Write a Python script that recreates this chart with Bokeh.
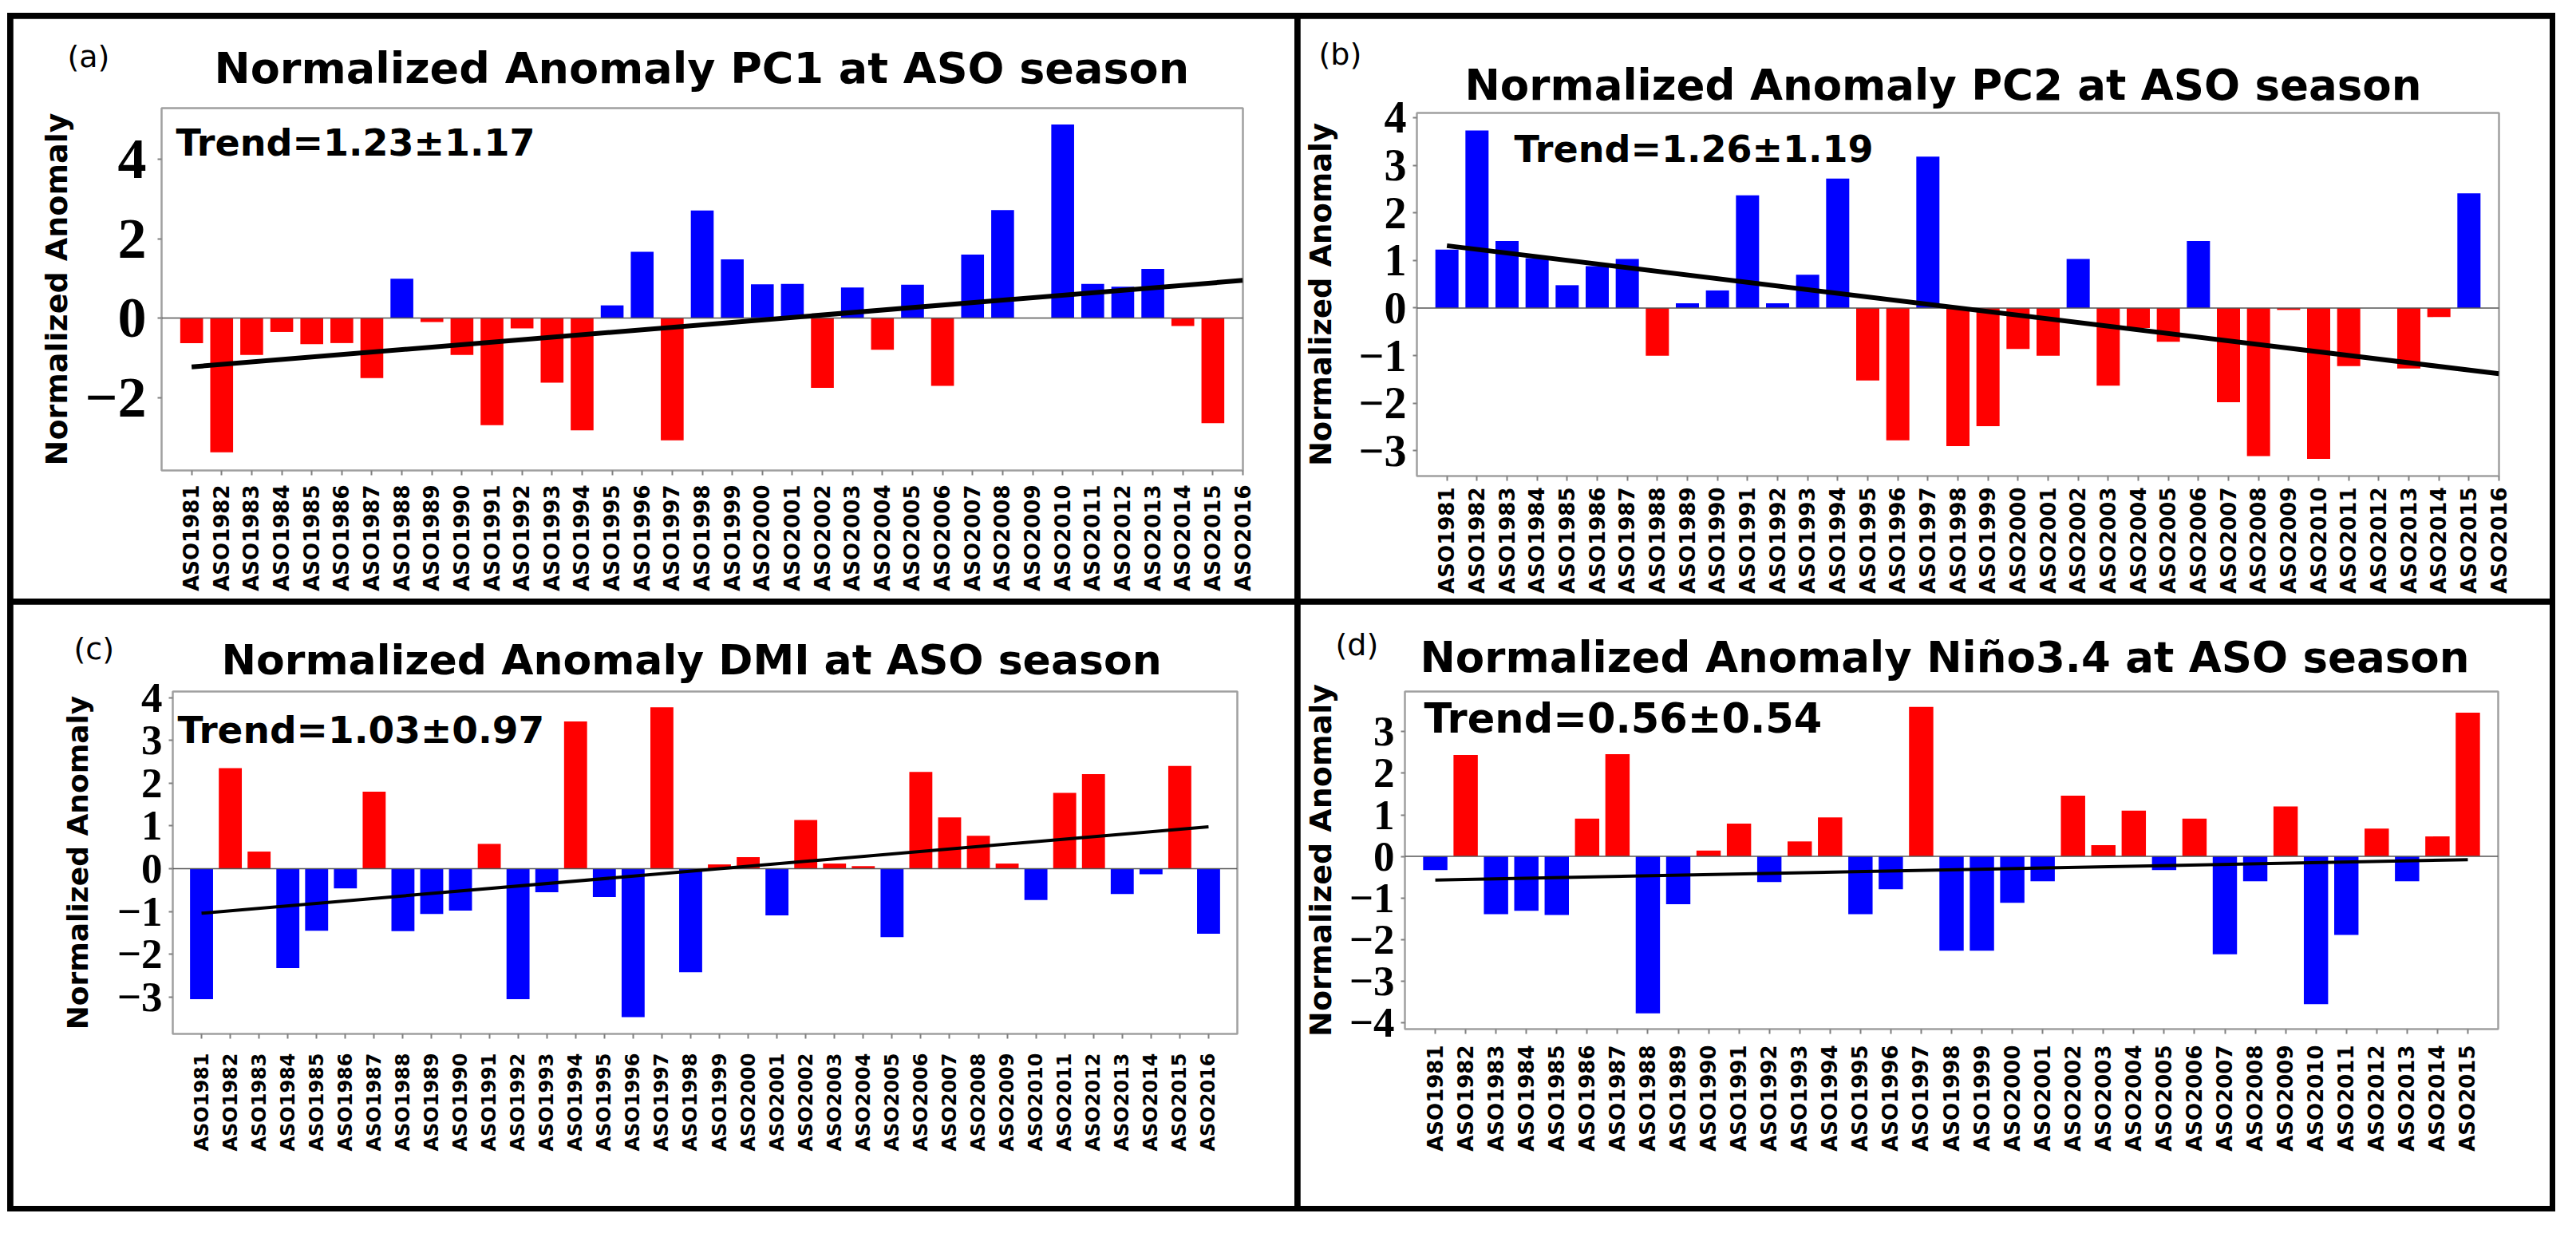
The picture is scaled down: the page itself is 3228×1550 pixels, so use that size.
import math
from bokeh.plotting import figure
from bokeh.models import Range1d, FixedTicker, Label, GridBox, ColumnDataSource, Title
from bokeh.layouts import column
from bokeh.embed import file_html
from bokeh.resources import INLINE

# ---------------- data ----------------
years = list(range(1981, 2017))
tick_labels = [f"ASO{y}" for y in years]

pc1 = [-0.63, -3.38, -0.93, -0.35, -0.66, -0.63, -1.51, 0.99, -0.10, -0.93,
       -2.70, -0.26, -1.63, -2.83, 0.32, 1.67, -3.08, 2.71, 1.48, 0.85,
       0.86, -1.76, 0.77, -0.80, 0.84, -1.71, 1.60, 2.72, 0.00, 4.88,
       0.86, 0.79, 1.24, -0.20, -2.65]
pc1_trend = [-1.23, 0.95]

pc2 = [1.23, 3.73, 1.41, 1.05, 0.48, 0.88, 1.03, -1.00, 0.10, 0.37,
       2.37, 0.10, 0.70, 2.72, -1.52, -2.78, 3.18, -2.90, -2.48, -0.86,
       -1.00, 1.03, -1.63, -0.42, -0.71, 1.41, -1.98, -3.11, -0.04, -3.17,
       -1.22, 0.00, -1.27, -0.19, 2.41]
pc2_trend = [1.31, -1.38]

dmi = [-3.05, 2.35, 0.40, -2.32, -1.45, -0.46, 1.80, -1.46, -1.06, -0.98,
       0.58, -3.05, -0.55, 3.44, -0.66, -3.47, 3.77, -2.42, 0.10, 0.27,
       -1.09, 1.14, 0.12, 0.06, -1.60, 2.26, 1.20, 0.77, 0.12, -0.73,
       1.77, 2.21, -0.59, -0.13, 2.40, -1.52]
dmi_trend = [-1.04, 0.98]

nino = [-0.33, 2.44, -1.39, -1.31, -1.41, 0.91, 2.46, -3.78, -1.15, 0.14,
        0.79, -0.62, 0.36, 0.94, -1.39, -0.79, 3.60, -2.27, -2.27, -1.12,
        -0.60, 1.46, 0.27, 1.10, -0.33, 0.91, -2.36, -0.60, 1.20, -3.56,
        -1.89, 0.67, -0.60, 0.48, 3.46]
nino_trend = [-0.57, -0.08]

# ---------------- style ----------------
SANS = "DejaVu Sans"
SERIF = "Liberation Serif"
BLUE = "#0000ff"
RED = "#ff0000"


def make_panel(cfg):
    w, h = cfg["size"]
    l, t, r, b = cfg["borders"]
    vals = cfg["values"]
    n_ticks = cfg["n_ticks"]
    x0, x1 = -1, cfg["x_end"]
    y0, y1 = cfg["yrange"]
    W = w - l - r
    H = h - t - b

    def dx(px):
        return x0 + (px - l) / W * (x1 - x0)

    def dy(py):
        return y1 - (py - t) / H * (y1 - y0)

    p = figure(width=w, height=h, output_backend="svg", toolbar_location=None,
               x_range=Range1d(x0, x1), y_range=Range1d(y0, y1),
               min_border_left=l, min_border_top=t, min_border_right=r,
               min_border_bottom=b, title=None)
    p.frame_align = False
    p.background_fill_color = "white"
    p.border_fill_color = "white"
    p.grid.visible = False
    p.outline_line_color = "#a0a0a0"
    p.outline_line_width = 2.5

    # title (real plot title, placed in the panel above the frame)
    p.add_layout(Title(text=cfg["title"], text_font=SANS, text_font_style="bold",
                       text_font_size=cfg["title_fs"], text_color="black", align="left",
                       offset=cfg["title_offset"], standoff=cfg["title_standoff"],
                       vertical_align="bottom"), "above")

    idx = list(range(len(vals)))
    colors = [cfg["pos"] if v >= 0 else cfg["neg"] for v in vals]
    src = ColumnDataSource(dict(x=idx, top=vals, color=colors))
    p.vbar(x="x", top="top", bottom=0, width=cfg["bar_w"], fill_color="color",
           line_color=None, source=src)

    # zero line
    p.line(x=[x0, x1], y=[0, 0], line_color="#555555", line_width=1.5)
    # trend line
    tx = [0, n_ticks - 1]
    p.line(x=tx, y=cfg["trend"], line_color="black", line_width=cfg["trend_w"])

    # x axis
    xa = p.xaxis[0]
    xa.ticker = FixedTicker(ticks=list(range(n_ticks)))
    xa.major_label_overrides = {i: tick_labels[i] for i in range(n_ticks)}
    xa.major_label_orientation = math.pi / 2
    xa.major_label_text_font = SANS
    xa.major_label_text_font_style = "bold"
    xa.major_label_text_font_size = cfg["xlab_fs"]
    xa.major_label_text_color = "black"
    xa.major_label_standoff = cfg["xlab_standoff"]
    xa.axis_line_color = None
    xa.major_tick_line_color = "#808080"
    xa.major_tick_line_width = 2
    xa.major_tick_out = 6
    xa.major_tick_in = 0
    xa.minor_tick_line_color = None

    ya = p.yaxis[0]
    ya.ticker = FixedTicker(ticks=cfg["yticks"])
    ya.major_label_text_font = SERIF
    ya.major_label_text_font_style = "bold"
    ya.major_label_text_font_size = cfg["ytick_fs"]
    ya.major_label_text_color = "black"
    ya.major_label_standoff = cfg["ytick_standoff"]
    ya.axis_line_color = None
    ya.major_tick_line_color = "#808080"
    ya.major_tick_line_width = 2
    ya.major_tick_out = 5
    ya.major_tick_in = 0
    ya.minor_tick_line_color = None
    ya.axis_label = "Normalized Anomaly"
    ya.axis_label_text_font = SANS
    ya.axis_label_text_font_style = "bold"
    ya.axis_label_text_font_size = cfg["ylab_fs"]
    ya.axis_label_text_color = "black"
    ya.axis_label_standoff = cfg["ylab_standoff"]

    rx, ry = cfg["trend_pos"]
    p.add_layout(Label(x=dx(rx), y=dy(ry), text=cfg["trend_text"], text_font=SANS,
                       text_font_style="bold", text_font_size=cfg["trend_fs"],
                       text_align="left", text_baseline="middle", text_color="black"))

    # transparent overlay (same grid cell) carrying the panel letter
    ov = figure(width=w, height=h, output_backend="svg", toolbar_location=None,
                x_range=Range1d(0, w), y_range=Range1d(h, 0),
                min_border_left=0, min_border_top=0, min_border_right=0,
                min_border_bottom=0, x_axis_location=None, y_axis_location=None,
                title=None)
    ov.frame_align = False
    ov.grid.visible = False
    ov.outline_line_color = None
    ov.background_fill_alpha = 0
    ov.border_fill_alpha = 0
    lx, ly = cfg["letter_pos"]
    ov.add_layout(Label(x=lx, y=ly, text=cfg["letter"], text_font=SANS,
                        text_font_size=cfg["letter_fs"], text_align="left",
                        text_baseline="middle", text_color="black"))
    return p, ov


cfg_a = dict(size=(1606, 727), borders=(186, 112, 65, 161), values=pc1, n_ticks=36,
             x_end=35, yrange=(-3.84, 5.29), yticks=[-2, 0, 2, 4], ytick_fs="72px",
             ytick_standoff=14, ylab_fs="38px", ylab_standoff=10, xlab_fs="26px",
             xlab_standoff=12, pos=BLUE, neg=RED, bar_w=0.76, trend=pc1_trend, trend_w=6,
             letter="(a)", letter_fs="38px", letter_pos=(68, 47),
             title="Normalized Anomaly PC1 at ASO season", title_fs="54px",
             title_offset=66, title_standoff=37,
             trend_text="Trend=1.23\u00b11.17", trend_fs="46px", trend_pos=(204, 155))

cfg_b = dict(size=(1566, 727), borders=(146, 118, 64, 154), values=pc2, n_ticks=36,
             x_end=35, yrange=(-3.53, 4.10), yticks=[-3, -2, -1, 0, 1, 2, 3, 4], ytick_fs="56px",
             ytick_standoff=8, ylab_fs="37px", ylab_standoff=23, xlab_fs="26px",
             xlab_standoff=8, pos=BLUE, neg=RED, bar_w=0.77, trend=pc2_trend, trend_w=6,
             letter="(b)", letter_fs="38px", letter_pos=(23, 44),
             title="Normalized Anomaly PC2 at ASO season", title_fs="53px",
             title_offset=60, title_standoff=10,
             trend_text="Trend=1.26\u00b11.19", trend_fs="46px", trend_pos=(268, 163))

cfg_c = dict(size=(1606, 754), borders=(200, 109, 72, 216), values=dmi, n_ticks=36,
             x_end=36, yrange=(-3.86, 4.14), yticks=[-3, -2, -1, 0, 1, 2, 3, 4], ytick_fs="53px",
             ytick_standoff=8, ylab_fs="36px", ylab_standoff=26, xlab_fs="24px",
             xlab_standoff=18, pos=RED, neg=BLUE, bar_w=0.8, trend=dmi_trend, trend_w=4,
             letter="(c)", letter_fs="38px", letter_pos=(76, 55),
             title="Normalized Anomaly DMI at ASO season", title_fs="52px",
             title_offset=61, title_standoff=19,
             trend_text="Trend=1.03\u00b10.97", trend_fs="47px", trend_pos=(206, 157))

cfg_d = dict(size=(1566, 754), borders=(127, 109, 65, 222), values=nino, n_ticks=35,
             x_end=35, yrange=(-4.16, 3.97), yticks=[-4, -3, -2, -1, 0, 1, 2, 3], ytick_fs="53px",
             ytick_standoff=8, ylab_fs="38px", ylab_standoff=11, xlab_fs="26px",
             xlab_standoff=14, pos=RED, neg=BLUE, bar_w=0.8, trend=nino_trend, trend_w=4,
             letter="(d)", letter_fs="38px", letter_pos=(44, 50),
             title="Normalized Anomaly Ni\u00f1o3.4 at ASO season", title_fs="53px",
             title_offset=19, title_standoff=25,
             trend_text="Trend=0.56\u00b10.54", trend_fs="51px", trend_pos=(151, 143))

pa, oa = make_panel(cfg_a)
pb, ob = make_panel(cfg_b)
pc, oc = make_panel(cfg_c)
pd_, od = make_panel(cfg_d)

grid = GridBox(children=[(pa, 0, 0), (oa, 0, 0), (pb, 0, 1), (ob, 0, 1),
                         (pc, 1, 0), (oc, 1, 0), (pd_, 1, 1), (od, 1, 1)], spacing=7,
               styles={"background-color": "black", "padding": "7px"})

page = column(grid, styles={"padding-top": "16px", "padding-left": "9px"})

open("out.html", "w").write(file_html(page, INLINE))
